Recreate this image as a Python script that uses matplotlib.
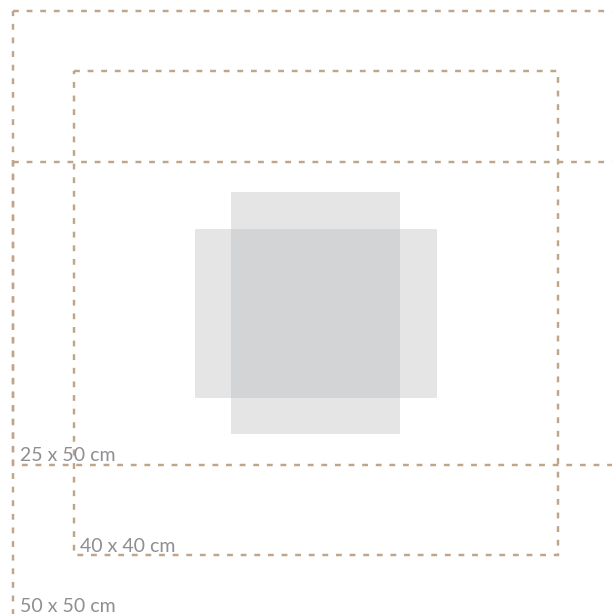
import matplotlib.pyplot as plt
from matplotlib.patches import Rectangle

# frame sizes in cm (width, height) and label text
frame_sizes = [(50, 50), (40, 40), (50, 25)]
frame_labels = ['50 x 50 cm', '40 x 40 cm', '25 x 50 cm']
# frame top-left corners in cm
frame_origins = [(0, 0), (5, 5), (0, 12.5)]

# the artwork, upright and turned, in cm
art_sizes = [(14, 20), (20, 14)]
centre = (25, 25)

dash_col = '#bfa68b'
text_col = '#8e8e93'
art_col = '#afb1b4'

fig = plt.figure(figsize=(6.12, 6.14), dpi=100)
ax = fig.add_axes([0, 0, 1, 1])
# 12.1 px per cm, 50x50 frame starts at px (13, 11)
ax.set_xlim(-13 / 12.1, (612 - 13) / 12.1)
ax.set_ylim((614 - 11) / 12.1, -11 / 12.1)
ax.axis('off')

for (w, h) in art_sizes:
    ax.add_patch(Rectangle((centre[0] - w / 2, centre[1] - h / 2), w, h,
                           facecolor=art_col, edgecolor='none', alpha=0.32))

for (w, h), (x0, y0) in zip(frame_sizes, frame_origins):
    ax.add_patch(Rectangle((x0, y0), w, h, fill=False, edgecolor=dash_col,
                           linewidth=1.75, linestyle=(0, (2.4, 3.2))))

for lab, (w, h), (x0, y0) in zip(frame_labels, frame_sizes, frame_origins):
    ax.text(x0 + 0.55, y0 + h - 0.3, lab, color=text_col, fontsize=14,
            family='Lato', ha='left', va='baseline')

fig.savefig('out.png', dpi=100)
